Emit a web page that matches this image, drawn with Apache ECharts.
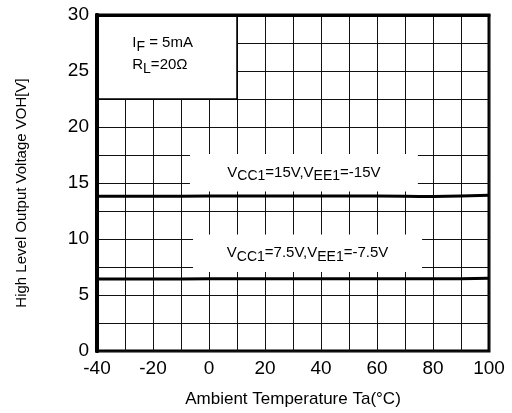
<!DOCTYPE html>
<html><head><meta charset="utf-8">
<script src="https://cdn.jsdelivr.net/npm/echarts@6/dist/echarts.min.js"></script>
<style>html,body{margin:0;padding:0;background:#fff}#c{width:512px;height:413px}</style>
</head><body><div id="c"></div>
<script>
const temps = [-40, -20, 0, 20, 40, 60, 80, 100];
const voh15 = [13.82, 13.82, 13.83, 13.83, 13.84, 13.84, 13.8, 13.9];
const voh75 = [6.43, 6.43, 6.44, 6.44, 6.45, 6.45, 6.45, 6.5];
const xTicks = [-40, -20, 0, 20, 40, 60, 80, 100];
const yTicks = [0, 5, 10, 15, 20, 25, 30];
const labelBoxes = [
  {x0: -6.8, x1: 74.6, y0: 14.25, y1: 17.6, text: '{n|V}{s|CC1}{n|=15V,V}{s|EE1}{n|=-15V}'},
  {x0: -5.7, x1: 76.1, y0: 7.05, y1: 10.4, text: '{n|V}{s|CC1}{n|=7.5V,V}{s|EE1}{n|=-7.5V}'}
];
const condBox = {x0: -40, x1: 10, y0: 22.5, y1: 30};
const condText = '{n|I}{s|F}{n| = 5mA}\n{n|R}{s|L}{n|=20Ω}';

const FONT = 'Liberation Sans, Arial, sans-serif';
const rich = {
  n: {fontFamily: FONT, fontSize: 15, color: '#000', verticalAlign: 'top', lineHeight: 22, height: 22},
  s: {fontFamily: FONT, fontSize: 14, color: '#000', verticalAlign: 'top', lineHeight: 22, height: 22, padding: [4, 0, 0, 0]}
};

const chart = echarts.init(document.getElementById('c'));
chart.setOption({
  animation: false,
  backgroundColor: '#fff',
  grid: {left: 97, right: 23, top: 15, bottom: 62, show: true, borderColor: '#000', borderWidth: 3, backgroundColor: 'transparent'},
  xAxis: [{
    type: 'value', min: -40, max: 100, interval: 10,
    axisLine: {show: false},
    axisTick: {show: false},
    splitLine: {show: true, lineStyle: {color: '#111', width: 1}},
    axisLabel: {
      fontFamily: FONT, fontSize: 19, color: '#000', margin: 8,
      formatter: v => xTicks.includes(v) ? String(v) : ''
    },
    name: 'Ambient Temperature Ta(°C)', nameLocation: 'middle', nameGap: 40,
    nameTextStyle: {fontFamily: FONT, fontSize: 17, color: '#000'}
  }, {
    type: 'value', min: -40, max: 100, position: 'top', z: 10,
    axisLine: {show: true, onZero: false, lineStyle: {color: '#000', width: 3}},
    axisTick: {show: false}, axisLabel: {show: false}, splitLine: {show: false}
  }],
  yAxis: [{
    type: 'value', min: 0, max: 30, interval: 2.5,
    axisLine: {show: true, onZero: false, lineStyle: {color: '#000', width: 4}},
    axisTick: {show: false},
    splitLine: {show: true, lineStyle: {color: '#111', width: 1}},
    axisLabel: {
      fontFamily: FONT, fontSize: 19, color: '#000', margin: 8,
      formatter: v => yTicks.includes(v) ? String(v) : ''
    },
    name: 'High Level Output Voltage VOH[V]', nameLocation: 'middle', nameGap: 68,
    nameTextStyle: {fontFamily: FONT, fontSize: 15, color: '#000', padding: [0, 20, 0, 0]}
  }, {
    type: 'value', min: 0, max: 30, position: 'left', z: 10,
    axisLine: {show: true, onZero: false, lineStyle: {color: '#000', width: 4}},
    axisTick: {show: false}, axisLabel: {show: false}, splitLine: {show: false}
  }],
  series: [
    {
      type: 'line', data: temps.map((t, i) => [t, voh15[i]]), smooth: true, symbol: 'none',
      lineStyle: {color: '#000', width: 3}, z: 5,
      markArea: {
        silent: true,
        itemStyle: {color: '#fff', opacity: 1},
        label: {show: true, position: 'inside', rich: rich, color: '#000'},
        data: labelBoxes.map(b => [
          {xAxis: b.x0, yAxis: b.y1, label: {formatter: b.text}},
          {xAxis: b.x1, yAxis: b.y0}
        ]).concat([[
          {xAxis: condBox.x0, yAxis: condBox.y1, itemStyle: {color: '#fff', borderColor: '#000', borderWidth: 1.5},
           label: {formatter: condText, position: 'insideTopLeft', distance: 0, padding: [18, 0, 0, 36]}},
          {xAxis: condBox.x1, yAxis: condBox.y0}
        ]])
      }
    },
    {
      type: 'line', data: temps.map((t, i) => [t, voh75[i]]), smooth: true, symbol: 'none',
      lineStyle: {color: '#000', width: 3}, z: 5
    }
  ]
});
</script></body></html>
